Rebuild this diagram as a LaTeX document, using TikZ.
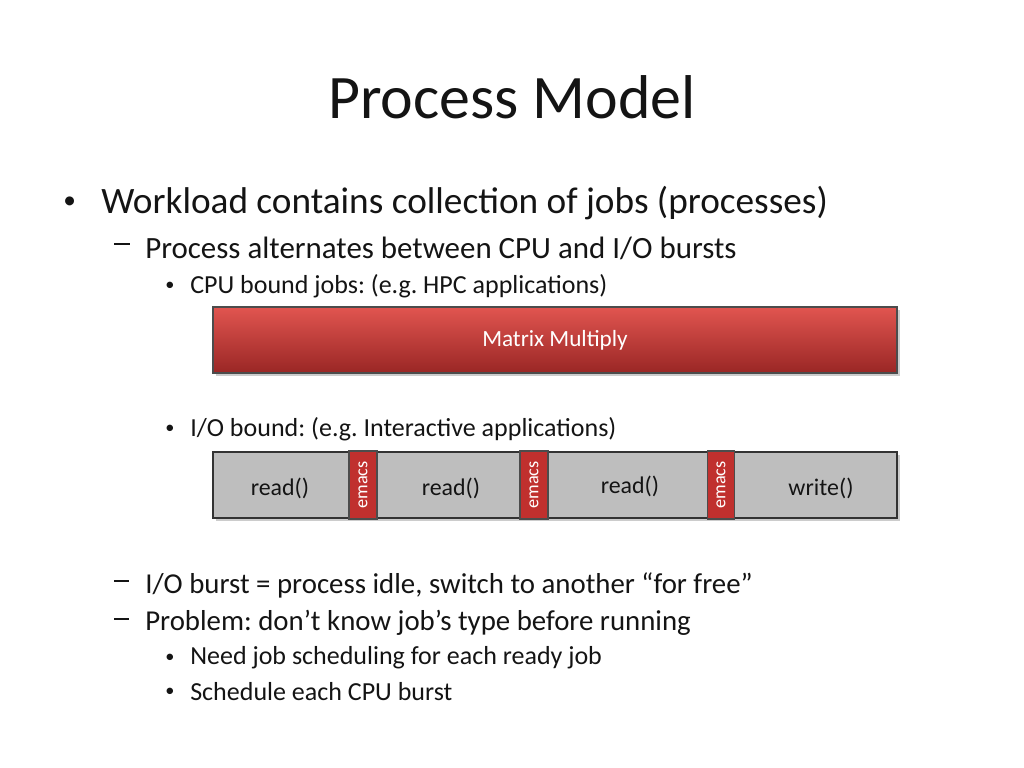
\documentclass[tikz,border=0pt]{standalone}
\usepackage{fontspec}
\setmainfont{Carlito}
\usetikzlibrary{shadows}
\definecolor{barred}{RGB}{192, 48, 46}
\definecolor{barredlight}{RGB}{225, 85, 80}
\definecolor{bargray}{RGB}{190, 190, 190}
\definecolor{textdark}{RGB}{20, 20, 20}
\frenchspacing
\newcommand{\dashmark}{\rule[0.28em]{0.5em}{0.07em}}

\begin{document}
\begin{tikzpicture}[
    x=0.025cm, y=-0.025cm,
    lvlone/.style={anchor=west, inner sep=0pt, font=\fontsize{26.5}{30}\selectfont, text=textdark},
    lvltwo/.style={anchor=west, inner sep=0pt, font=\fontsize{22}{24}\selectfont, text=textdark},
    lvltwob/.style={anchor=west, inner sep=0pt, font=\fontsize{20.5}{24}\selectfont, text=textdark},
    lvlthree/.style={anchor=west, inner sep=0pt, font=\fontsize{18.5}{20}\selectfont, text=textdark},
    dotmark/.style={anchor=west, inner sep=0pt, font=\fontsize{13}{14}\selectfont, text=textdark},
    cpubar/.style={rectangle, draw=black!70, thick, top color=barredlight, bottom color=barred!80!black, drop shadow={opacity=0.4}, text=white, font=\fontsize{16.5}{18}\selectfont, inner sep=0pt},
    iobar/.style={rectangle, draw=black!80, thick, fill=bargray, drop shadow={opacity=0.4}, inner sep=0pt},
    emacs/.style={rectangle, draw=black!70, thick, fill=barred, text=white, rotate=90, font=\fontsize{13}{14}\selectfont, inner sep=0pt},
    calllabel/.style={font=\fontsize{17}{19}\selectfont, text=textdark}
]
\useasboundingbox (0,0) rectangle (1024,768);

% Title
\node (title) [font=\fontsize{44}{48}\selectfont, text=textdark] at (512,97) {Process Model};

% Bullets
\node (b1dot) [dotmark, font=\fontsize{18}{20}\selectfont] at (63,203) {•};
\node (b1) [lvlone] at (101,203) {Workload contains collection of jobs (processes)};
\node (b2dot) [lvltwo] at (114,248) {\dashmark};
\node (b2) [lvltwo] at (145,248) {Process alternates between CPU and I/O bursts};
\node (b3dot) [dotmark] at (165,286) {•};
\node (b3) [lvlthree] at (190,286) {CPU bound jobs: (e.g. HPC applications)};

% CPU bar
\node (matrix) [cpubar, minimum width=684*0.025cm, minimum height=66*0.025cm] at (555,340) {Matrix Multiply};

\node (b4dot) [dotmark] at (165,429) {•};
\node (b4) [lvlthree] at (190,429) {I/O bound: (e.g. Interactive applications)};

% I/O bar
\node (iobar) [iobar, minimum width=684*0.025cm, minimum height=66*0.025cm] at (555,485) {};
\node (emacsA) [emacs, minimum width=68*0.025cm, minimum height=28*0.025cm] at (363,485) {emacs};
\node (emacsB) [emacs, minimum width=68*0.025cm, minimum height=28*0.025cm] at (534,485) {emacs};
\node (emacsC) [emacs, minimum width=68*0.025cm, minimum height=27*0.025cm] at (721,485) {emacs};
\node (readA) [calllabel] at (280,488) {read()};
\node (readB) [calllabel] at (451,488) {read()};
\node (readC) [calllabel] at (630,486) {read()};
\node (writeA) [calllabel] at (821,488) {write()};

% Lower bullets
\node (b5dot) [lvltwob] at (114,585) {\dashmark};
\node (b5) [lvltwob] at (145,585) {I/O burst = process idle, switch to another “for free”};
\node (b6dot) [lvltwob] at (114,623) {\dashmark};
\node (b6) [lvltwob] at (145,623) {Problem: don’t know job’s type before running};
\node (b7dot) [dotmark] at (165,658) {•};
\node (b7) [lvlthree] at (190,658) {Need job scheduling for each ready job};
\node (b8dot) [dotmark] at (165,692) {•};
\node (b8) [lvlthree] at (190,692) {Schedule each CPU burst};
\end{tikzpicture}
\end{document}
